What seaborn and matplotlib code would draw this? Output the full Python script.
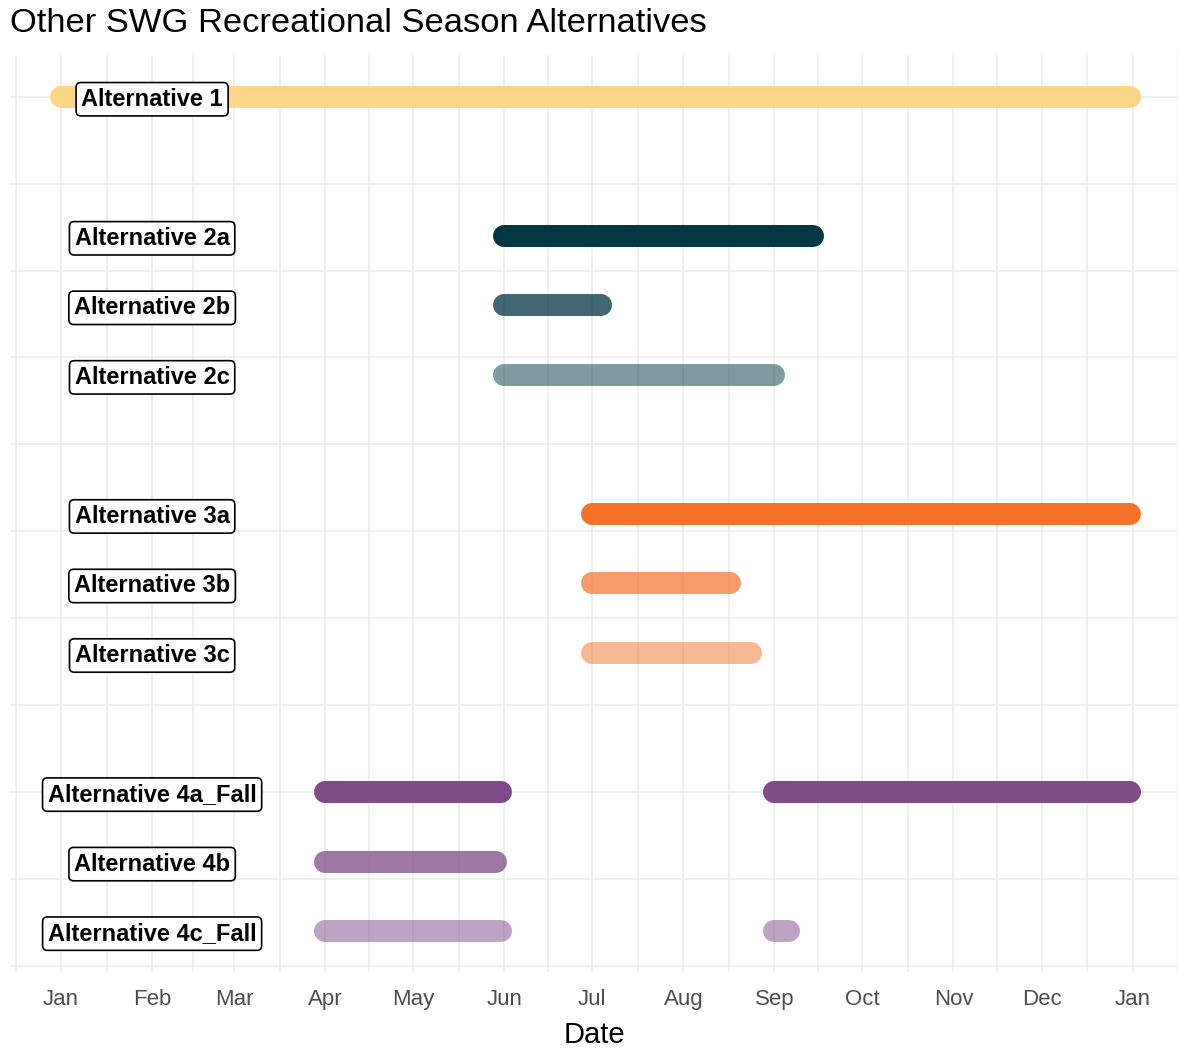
import matplotlib
matplotlib.use("Agg")
import matplotlib.pyplot as plt
import matplotlib.dates as mdates
import seaborn as sns
import pandas as pd
import numpy as np

# ---- data ----
alternatives = ["Alternative 1", "Alternative 2a", "Alternative 2b", "Alternative 2c",
                "Alternative 3a", "Alternative 3b", "Alternative 3c",
                "Alternative 4a_Fall", "Alternative 4b", "Alternative 4c_Fall"]
alt_y = [10.0, 8.4, 7.6, 6.8, 5.2, 4.4, 3.6, 2.0, 1.2, 0.4]
alt_colors = ["#FED688", "#033744", "#033744", "#033744",
              "#F37329", "#F37329", "#F37329",
              "#7F4B89", "#7F4B89", "#7F4B89"]
alt_alpha = [1.0, 1.0, 0.75, 0.5, 1.0, 0.7, 0.5, 1.0, 0.75, 0.5]

seg_alt = ["Alternative 1", "Alternative 2a", "Alternative 2b", "Alternative 2c",
           "Alternative 3a", "Alternative 3b", "Alternative 3c",
           "Alternative 4a_Fall", "Alternative 4a_Fall", "Alternative 4b",
           "Alternative 4c_Fall", "Alternative 4c_Fall"]
seg_start = ["2023-01-01", "2023-06-01", "2023-06-01", "2023-06-01",
             "2023-07-01", "2023-07-01", "2023-07-01",
             "2023-04-01", "2023-09-01", "2023-04-01",
             "2023-04-01", "2023-09-01"]
seg_end = ["2023-12-31", "2023-09-14", "2023-07-04", "2023-09-01",
           "2023-12-31", "2023-08-17", "2023-08-24",
           "2023-05-31", "2023-12-31", "2023-05-29",
           "2023-05-31", "2023-09-06"]
label_date = "2023-02-01"

title = "Other SWG Recreational Season Alternatives"
x_title = "Date"

# ---- build tables ----
alt_df = pd.DataFrame({"alt": alternatives, "y": alt_y,
                       "color": alt_colors, "alpha": alt_alpha}).set_index("alt")
seg_df = pd.DataFrame({"alt": seg_alt,
                       "start": pd.to_datetime(seg_start),
                       "end": pd.to_datetime(seg_end)})

sns.set_theme(style="white")
plt.rcParams["font.family"] = ["Liberation Sans", "DejaVu Sans"]

fig = plt.figure(figsize=(11.78, 10.48), dpi=100)
ax = fig.add_axes([10 / 1178, 1 - 972 / 1048, 1 - 10 / 1178, (972 - 55) / 1048])

# grid
x0 = pd.Timestamp("2022-12-14 14:00")
x1 = pd.Timestamp("2024-01-16 12:00")
months = pd.date_range("2022-12-01", "2024-02-01", freq="MS")
mids = [months[i] + (months[i + 1] - months[i]) / 2 for i in range(len(months) - 1)]
for d in list(months) + mids:
    ax.axvline(d, color="#EBEBEB", lw=1.1, zorder=0)
for yy in range(0, 11):
    ax.axhline(yy, color="#EBEBEB", lw=1.1, zorder=0)

# segments
lw_pt = 22 * 72 / 100
for _, r in seg_df.iterrows():
    a = alt_df.loc[r["alt"]]
    seg = pd.DataFrame({"date": [r["start"], r["end"]], "y": [a["y"], a["y"]]})
    sns.lineplot(data=seg, x="date", y="y", ax=ax, color=a["color"], alpha=a["alpha"],
                 linewidth=lw_pt, solid_capstyle="round", zorder=2)

# labels
for alt, r in alt_df.iterrows():
    ax.text(pd.Timestamp(label_date), r["y"], alt, ha="center", va="center_baseline",
            fontsize=17, fontweight="bold", color="black", zorder=5,
            bbox=dict(boxstyle="round,pad=0.22,rounding_size=0.2", fc="white",
                      ec="black", lw=1.2))

ax.set_xlim(x0, x1)
ax.set_ylim(-0.07, 10.48)
ax.xaxis.set_major_locator(mdates.MonthLocator())
ax.xaxis.set_major_formatter(mdates.DateFormatter("%b"))
ax.set_yticks([])
ax.tick_params(axis="x", length=0, pad=12, labelsize=16, labelcolor="#4D4D4D")
ax.set_xlabel(x_title, fontsize=21, color="black", labelpad=8)
ax.set_ylabel("")
for s in ax.spines.values():
    s.set_visible(False)

fig.text(10 / 1178, 1 - 8 / 1048, title, ha="left", va="top", fontsize=24.8, color="black")

fig.savefig("out.png", dpi=100)
